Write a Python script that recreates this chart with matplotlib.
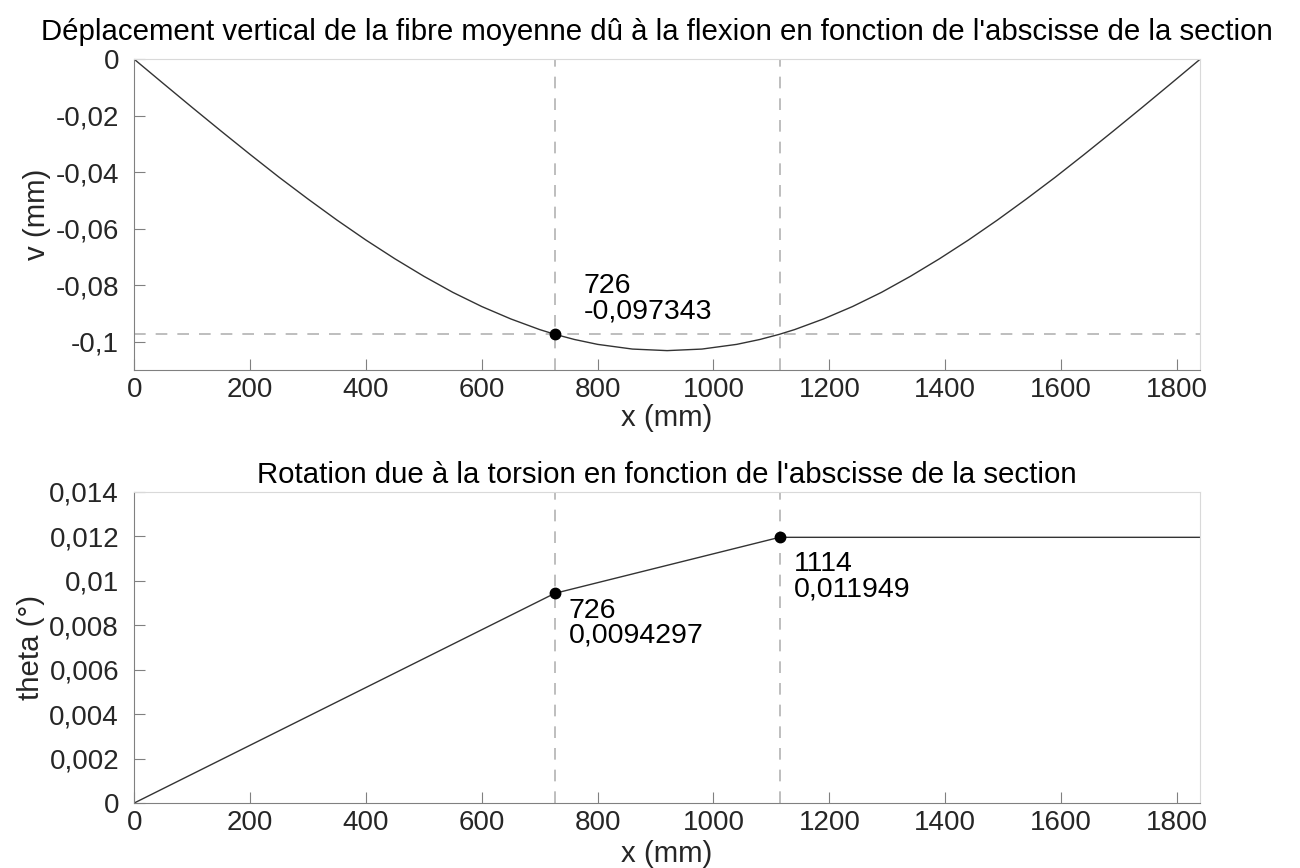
import matplotlib
matplotlib.use("Agg")
import matplotlib.pyplot as plt
from matplotlib.ticker import FuncFormatter, MultipleLocator

plt.rcParams["font.family"] = ["Liberation Sans", "DejaVu Sans"]

INK = "#262626"
AXIS = "#808080"
FRAME = "#d9d9d9"
GUIDE = "#b3b3b3"

# deflection v(x), values
x_v = [0, 50, 100, 150, 200, 250, 300, 350, 400, 450, 500, 550, 600, 650, 700,
       726, 760, 800, 860, 920, 980, 1040, 1080, 1114, 1140, 1190, 1240, 1290,
       1340, 1390, 1440, 1490, 1540, 1590, 1640, 1690, 1740, 1790, 1840]
v = [0, -0.00856, -0.01706, -0.02544, -0.03369, -0.04176, -0.04948, -0.05693,
     -0.06400, -0.07063, -0.07682, -0.08251, -0.08753, -0.09191, -0.09569,
     -0.097343, -0.09919, -0.10092, -0.10258, -0.10313, -0.10258, -0.10092,
     -0.09919, -0.097343, -0.09569, -0.09191, -0.08753, -0.08251, -0.07682,
     -0.07063, -0.06400, -0.05693, -0.04948, -0.04176, -0.03369, -0.02544,
     -0.01706, -0.00856, 0]

# torsion rotation theta(x)
x_t = [0, 726, 1114, 1840]
theta = [0, 0.0094297, 0.011949, 0.011949]

x_loads = [726, 1114]
L = 1840
i_pt = x_v.index(726)

FS = 20
FS_T = 21.2
FS_A = 20.5


def comma(val, pos):
    s = "%.8g" % round(val, 9)
    if s == "-0":
        s = "0"
    return s.replace(".", ",")


def style(ax):
    for side in ("left", "bottom"):
        ax.spines[side].set_color(AXIS)
    for side in ("top", "right"):
        ax.spines[side].set_color(FRAME)
    ax.tick_params(direction="in", length=8, color=AXIS, labelcolor=INK,
                   labelsize=FS, top=False, right=False)
    ax.tick_params(axis="y", pad=11)
    ax.tick_params(axis="x", pad=5)
    ax.xaxis.set_major_locator(MultipleLocator(200))
    ax.xaxis.set_major_formatter(FuncFormatter(comma))
    ax.yaxis.set_major_formatter(FuncFormatter(comma))
    ax.set_xlim(0, L)


fig = plt.figure(figsize=(13, 8.68), dpi=100)
ax1 = fig.add_axes([0.1033, 0.5737, 0.8198, 0.358])
ax2 = fig.add_axes([0.1033, 0.0749, 0.8198, 0.3586])

# top: deflection
style(ax1)
ax1.set_ylim(-0.11, 0)
ax1.yaxis.set_major_locator(MultipleLocator(0.02))
for xl in x_loads:
    ax1.axvline(xl, color=GUIDE, lw=1.2, dashes=(7, 6), zorder=1)
ax1.axhline(v[i_pt], color=GUIDE, lw=1.2, dashes=(7, 6), zorder=1)
ax1.plot(x_v, v, color="#333333", lw=1.0, zorder=2)
ax1.plot([x_v[i_pt]], [v[i_pt]], "o", color="black", ms=7.5, zorder=3)
ax1.annotate("%d\n%s" % (x_v[i_pt], comma(v[i_pt], None)), (x_v[i_pt], v[i_pt]),
             xytext=(21, 44), textcoords="offset points", ha="left", va="top",
             fontsize=FS_A, color="black", linespacing=0.95)
ax1.set_title("Déplacement vertical de la fibre moyenne dû à la flexion en fonction de l'abscisse de la section",
              fontsize=FS_T, color="black", pad=14, x=0.49)
ax1.set_xlabel("x (mm)", fontsize=FS_T, color=INK, labelpad=1)
ax1.set_ylabel("v (mm)", fontsize=FS_T, color=INK, labelpad=3)

# bottom: torsion
style(ax2)
ax2.set_ylim(0, 0.014)
ax2.yaxis.set_major_locator(MultipleLocator(0.002))
for xl in x_loads:
    ax2.axvline(xl, color=GUIDE, lw=1.2, dashes=(7, 6), zorder=1)
ax2.plot(x_t, theta, color="#333333", lw=1.0, zorder=2)
ax2.plot(x_t[1:3], theta[1:3], "o", color="black", ms=7.5, zorder=3)
offsets = [(10, -3), (10, -10)]
for i, off in zip([1, 2], offsets):
    ax2.annotate("%d\n%s" % (x_t[i], comma(theta[i], None)), (x_t[i], theta[i]),
                 xytext=off, textcoords="offset points", ha="left", va="top",
                 fontsize=FS_A, color="black", linespacing=0.95)
ax2.set_title("Rotation due à la torsion en fonction de l'abscisse de la section",
              fontsize=FS_T, color="black", pad=6)
ax2.set_xlabel("x (mm)", fontsize=FS_T, color=INK, labelpad=3)
ax2.set_ylabel("theta (°)", fontsize=FS_T, color=INK, labelpad=3)

fig.savefig("out.png", dpi=100, facecolor="white")
